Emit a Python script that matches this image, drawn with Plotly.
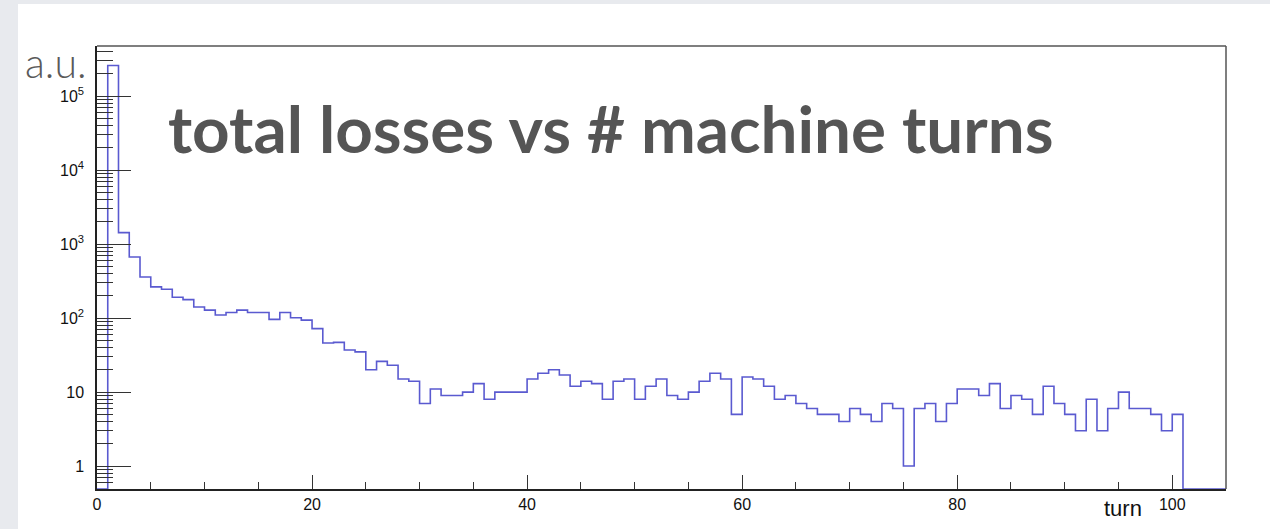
import math
import plotly.graph_objects as go

# Bin contents per machine turn (bin width 1, turns 0..104)
turn_edges = list(range(0, 106))
losses = [
    0, 260000, 1430, 670, 360, 264, 245, 191, 178, 141,
    128, 110, 119, 128, 119, 119, 96, 119, 101, 94,
    72, 46, 47, 37, 35, 20, 26, 23, 15, 14,
    7, 11, 9, 9, 10, 13, 8, 10, 10, 10,
    15, 18, 20, 17, 12, 14, 13, 8, 14, 15,
    8, 12, 15, 9, 8, 10, 14, 18, 15, 5,
    16, 15, 12, 8, 9, 7, 6, 5, 5, 4,
    6, 5, 4, 7, 6, 1, 6, 7, 4, 7,
    11, 11, 9, 13, 6, 9, 8, 5, 12, 7,
    5, 3, 8, 3, 6, 10, 6, 6, 5, 3,
    5, 0, 0, 0, 0,
]

x_ticks = [0, 20, 40, 60, 80, 100]
y_ticks = [1, 10, 100, 1000, 10000, 100000]
y_tick_text = ["1", "10", "10<sup>2</sup>", "10<sup>3</sup>", "10<sup>4</sup>", "10<sup>5</sup>"]

# log10 range of the y axis
Y_LOG_MIN, Y_LOG_MAX = -0.31, 5.678
X_MIN, X_MAX = 0, 105

# empty bins sit on the lower edge of the log frame
floor = 10 ** Y_LOG_MIN
step_y = [v if v > 0 else floor for v in losses]
step_y = step_y + [step_y[-1]]

minor_y = [m * 10 ** k for k in range(-1, 6) for m in range(2, 10)
           if Y_LOG_MIN < (k + math.log10(m)) < Y_LOG_MAX]

fig = go.Figure()
fig.add_trace(go.Scatter(
    x=turn_edges, y=step_y, mode="lines", line_shape="hv",
    line=dict(color="#5a5ad0", width=1.6), hoverinfo="skip", showlegend=False,
))

W, H = 1270, 529
L, R, T, B = 97, 1226, 46, 489


def px_x(p):
    return (p - L) / (R - L)


def px_y(p):
    return (B - p) / (B - T)


axis_font = dict(family="Liberation Sans, Arial, sans-serif", size=16, color="#111")

fig.update_layout(
    width=W, height=H,
    margin=dict(l=L, r=W - R, t=T, b=H - B, pad=0),
    paper_bgcolor="#e8eaee", plot_bgcolor="white",
    xaxis=dict(
        range=[X_MIN, X_MAX], tickvals=x_ticks, ticks="inside", ticklen=14,
        tickwidth=1, tickcolor="#333", showgrid=False, zeroline=False,
        showline=True, linecolor="#222", linewidth=1.5, tickfont=axis_font,
        minor=dict(dtick=5, tick0=0, ticks="inside", ticklen=7, tickwidth=1,
                   tickcolor="#333", showgrid=False),
    ),
    yaxis=dict(
        type="log", range=[Y_LOG_MIN, Y_LOG_MAX], tickvals=y_ticks,
        ticktext=y_tick_text, ticks="inside", ticklen=34, tickwidth=1,
        tickcolor="#333", showgrid=False, zeroline=False, showline=True,
        linecolor="#222", linewidth=1.5, tickfont=axis_font,
        ticklabelstandoff=8,
        minor=dict(tickvals=minor_y, ticks="inside", ticklen=16, tickwidth=1,
                   tickcolor="#333", showgrid=False),
    ),
    shapes=[
        # white slide area
        dict(type="rect", xref="paper", yref="paper", layer="below",
             x0=px_x(18), x1=px_x(W + 5), y0=px_y(H + 5), y1=px_y(4),
             fillcolor="white", line=dict(width=0)),
        # upper and right frame edges
        dict(type="line", xref="paper", yref="paper", x0=0, x1=1, y0=1, y1=1,
             line=dict(color="#555", width=1.5)),
        dict(type="line", xref="paper", yref="paper", x0=1, x1=1, y0=0, y1=1,
             line=dict(color="#555", width=1.5)),
    ],
    annotations=[
        dict(text="<b>total losses vs # machine turns</b>", xref="paper", yref="paper",
             x=px_x(166), y=px_y(127), xanchor="left", yanchor="middle",
             showarrow=False, font=dict(family="Lato", size=65.5, color="#555555")),
        dict(text="a.u.", xref="paper", yref="paper",
             x=px_x(23), y=px_y(62), xanchor="left", yanchor="middle",
             showarrow=False, font=dict(family="Lato", size=41, color="#5a5a5a", weight=300)),
        dict(text="turn", xref="paper", yref="paper",
             x=px_x(1123), y=px_y(508), xanchor="center", yanchor="middle",
             showarrow=False, font=dict(family="Liberation Sans, Arial, sans-serif",
                                        size=22, color="#111")),
    ],
)

fig.write_html("out.html")
